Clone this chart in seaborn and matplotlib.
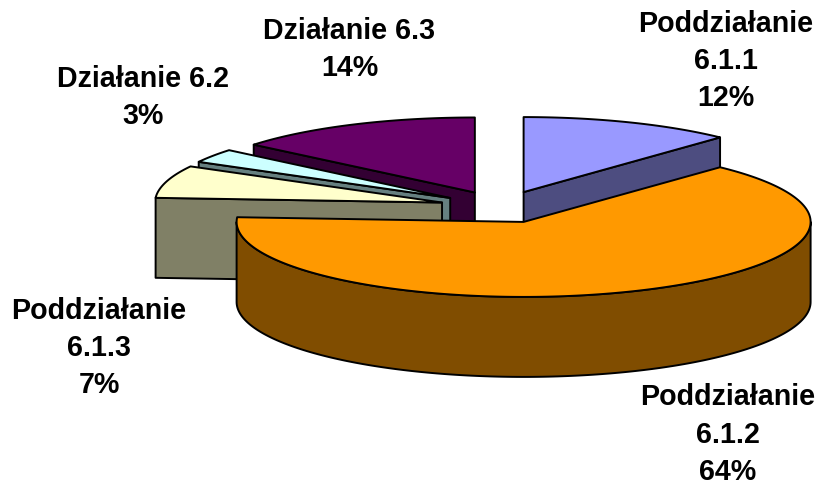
"""Exploded 3D pie: Excel style, drawn as projected ellipse wedges on pixel-like axes."""

import numpy as np
import matplotlib.pyplot as plt
import seaborn as sns
from matplotlib.colors import to_rgb

labels = [
    "Poddziałanie\n6.1.1\n12%",
    "Poddziałanie\n6.1.2\n64%",
    "Poddziałanie\n6.1.3\n7%",
    "Działanie 6.2\n3%",
    "Działanie 6.3\n14%",
]
values = [12, 64, 7, 3, 14]
colors = ["#9999FF", "#FF9900", "#FFFFCC", "#CCFFFF", "#660066"]

# where each label sits, same order as labels
label_x = [725.5, 728, 99, 143, 349.5]
label_y = [61, 434.5, 348, 97.5, 49.5]

# pie geometry in pixels
CX, CY = 501, 207
RX, RY = 287, 75
EXPLODE = 61.4
DEPTH = 80
LINE = 1.4


def point(cx, cy, deg):
    a = np.radians(deg)
    return cx + RX * np.sin(a), cy - RY * np.cos(a)


def draw_wall(ax, xs, ys, color):
    wx = np.concatenate([xs, xs[::-1]])
    wy = np.concatenate([ys, ys[::-1] + DEPTH])
    ax.fill(wx, wy, facecolor=color, edgecolor="black", linewidth=LINE, joinstyle="round")


def draw_slice(ax, start, end, color):
    mid = np.radians((start + end) / 2)
    cx = CX + EXPLODE * np.sin(mid)
    cy = CY - EXPLODE * RY / RX * np.cos(mid)
    dark = tuple(c * 0.5 for c in to_rgb(color))

    # radial walls only where they face the viewer
    if 180 < start < 360:
        x0, y0 = point(cx, cy, start)
        draw_wall(ax, np.array([x0, cx]), np.array([y0, cy]), dark)
    if 0 < end < 180:
        x1, y1 = point(cx, cy, end)
        draw_wall(ax, np.array([cx, x1]), np.array([cy, y1]), dark)

    # curved outer wall on the front half
    lo, hi = max(start, 90), min(end, 270)
    if lo < hi:
        xs, ys = point(cx, cy, np.linspace(lo, hi, 200))
        draw_wall(ax, xs, ys, dark)

    # top face
    xs, ys = point(cx, cy, np.linspace(start, end, 200))
    ax.fill(np.r_[cx, xs], np.r_[cy, ys], facecolor=color, edgecolor="black",
            linewidth=LINE, joinstyle="round")


def main():
    sns.set_theme(style="white")
    plt.rcParams["font.family"] = ["Liberation Sans", "DejaVu Sans"]

    fig = plt.figure(figsize=(8.2, 4.86), dpi=100)
    ax = fig.add_axes([0, 0, 1, 1])
    ax.set_xlim(0, 820)
    ax.set_ylim(486, 0)
    ax.axis("off")

    edges = np.cumsum([0] + values) / sum(values) * 360
    spans = list(zip(edges[:-1], edges[1:]))

    # painter's order: back slices first, the big front slice last
    for i in [4, 3, 2, 0, 1]:
        draw_slice(ax, spans[i][0], spans[i][1], colors[i])

    for text, x, y in zip(labels, label_x, label_y):
        ax.text(x, y, text, ha="center", va="center", fontsize=20.6, fontweight="bold",
                color="black", linespacing=1.42)

    fig.savefig("out.png", dpi=100, facecolor="white")


if __name__ == "__main__":
    main()
